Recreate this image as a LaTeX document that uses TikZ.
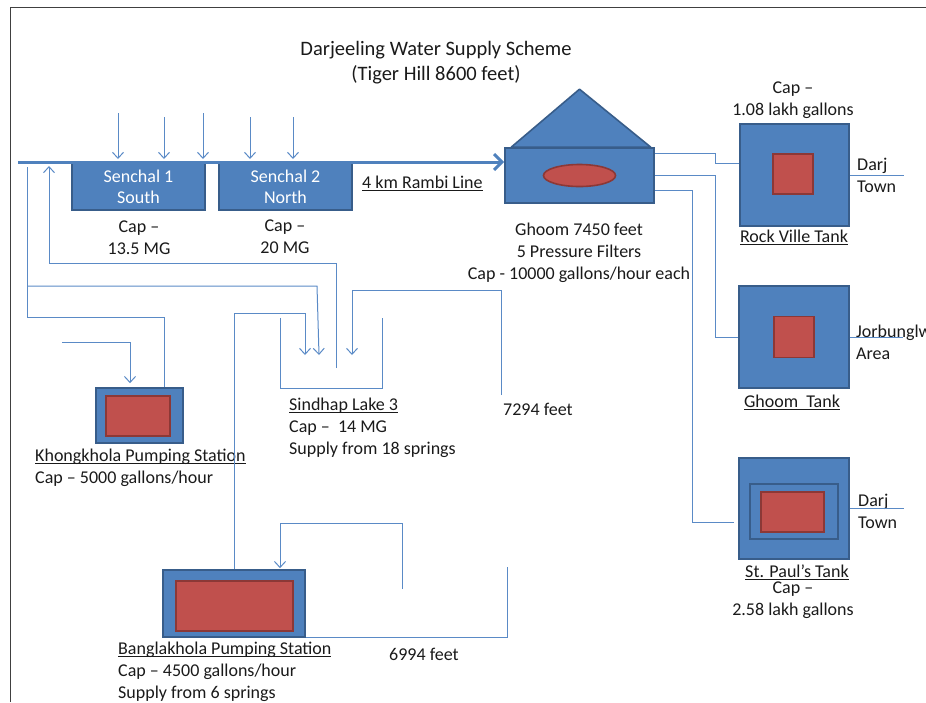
\documentclass[tikz,border=0pt]{standalone}
\usepackage{fontspec}
\setmainfont{Carlito}
\usetikzlibrary{arrows.meta,shapes.geometric}
\definecolor{tankfill}{HTML}{4F81BD}
\definecolor{tankborder}{HTML}{385D8A}
\definecolor{corefill}{HTML}{C0504D}
\definecolor{coreborder}{HTML}{8C3836}
\definecolor{pipeline}{HTML}{5A8AC6}
\definecolor{darkline}{HTML}{1A1A1A}
\definecolor{framegray}{HTML}{404040}
\newcommand{\ulabel}[1]{\setbox0\hbox{#1}\rlap{\rule[-2.4pt]{\wd0}{0.8pt}}\box0}
\tikzset{
  paint/.style={draw=tankborder, fill=tankfill, line width=1.6pt},
  box/.style={rectangle, paint, inner sep=0pt},
  tank/.style={box, minimum width=109pt, minimum height=102pt},
  core/.style={rectangle, draw=coreborder, fill=corefill, line width=1.6pt, inner sep=0pt},
  reservoir/.style={box, text=white, align=center, minimum width=133pt, minimum height=47pt,
                    font=\fontsize{18}{21}\selectfont},
  lbl/.style={font=\fontsize{18}{22}\selectfont, text=darkline, inner sep=0pt, align=center},
  lbll/.style={lbl, align=left, anchor=west},
  pipe/.style={draw=pipeline, line width=1pt},
  feed/.style={pipe, -{Straight Barb[length=6pt,width=11pt]}},
  mainpipe/.style={draw=tankfill, line width=3pt, -{Straight Barb[length=8pt,width=16pt]}},
  frameline/.style={draw=framegray, line width=1pt}
}
\def\pipeY{162}
\def\lakeTip{355}

\begin{document}
\begin{tikzpicture}[x=1pt, y=-1pt]
\useasboundingbox (0,0) rectangle (926,702);

%% Slide frame
\draw[frameline] (10,702) -- (10,7) -- (926,7);

%% Title
\node[lbl, font=\fontsize{20.5}{25}\selectfont] (title) at (436,63)
  {Darjeeling Water Supply Scheme\\(Tiger Hill 8600 feet)};

%% Senchal lakes on the Rambi line
\node[reservoir] (senchalS) at (138.5,186.5) {Senchal 1\\South};
\node[reservoir] (senchalN) at (285.5,186.5) {Senchal 2\\North};
\node[lbl] (capS) at (139,238) {Cap –\\13.5 MG};
\node[lbl] (capN) at (285,237) {Cap –\\20 MG};
\node[lbll] (rambi) at (362,183) {\ulabel{4 km Rambi Line}};

%% Ghoom pressure filters
\node[box, minimum width=149pt, minimum height=55pt] (filter) at (579.5,175.5) {};
\path (filter.north) ++(0,-58) coordinate (roofapex);
\filldraw[paint, line join=round] ([xshift=7pt]filter.north west) -- (roofapex)
  -- ([xshift=-4pt]filter.north east) -- cycle;
\node[core, ellipse, minimum width=72pt, minimum height=22pt] (filtercore) at (filter.center) {};
\node[lbl] (ghoominfo) at (579,252.5)
  {Ghoom 7450 feet\\5 Pressure Filters\\Cap - 10000 gallons/hour each};

%% Service tanks
\node[tank] (rockville) at (794.5,175) {};
\node[core, minimum width=40pt, minimum height=40pt] (rockcore) at (793,174) {};
\node[lbl] (rockcap) at (793,100.5) {Cap –\\1.08 lakh gallons};
\node[lbl] (rockname) at (794,237) {\ulabel{Rock Ville Tank}};
\node[lbll] (rockout) at (857,175.5) {Darj\\Town};

\node[tank, minimum width=110pt] (ghoomtank) at (794,337) {};
\node[core, minimum width=40pt, minimum height=41pt] (ghoomcore) at (794,337) {};
\node[lbl] (ghoomname) at (792,402) {\ulabel{Ghoom\ \ Tank}};
\node[lbll] (ghoomout) at (856,342.5) {Jorbunglw\\Area};

\node[tank, minimum width=110pt, minimum height=101pt] (stpaul) at (794,508.5) {};
\node[box, minimum width=88pt, minimum height=55pt] (stpaulmid) at (794,511.5) {};
\node[core, minimum width=63pt, minimum height=40pt] (stpaulcore) at (792.5,512) {};
\node[lbl] (stpaulname) at (797,572) {\ulabel{St. Paul’s Tank}};
\node[lbl] (stpaulcap) at (793,600.5) {Cap –\\2.58 lakh gallons};
\node[lbll] (stpaulout) at (858,511) {Darj\\Town};

%% Pumping stations and Sindhap lake
\node[box, minimum width=87pt, minimum height=55pt] (khong) at (139.5,415.5) {};
\node[core, minimum width=64pt, minimum height=40pt] (khongcore) at (138,416) {};
\node[lbll] (khongname) at (35,468)
  {\ulabel{Khongkhola Pumping Station}\\Cap – 5000 gallons/hour};

\node[box, minimum width=142pt, minimum height=67pt] (bangla) at (234,603.5) {};
\node[core, minimum width=117pt, minimum height=50pt] (banglacore) at (234.5,606) {};
\node[lbll] (banglaname) at (118,672)
  {\ulabel{Banglakhola Pumping Station}\\Cap – 4500 gallons/hour\\Supply from 6 springs};
\node[lbll] (feet6994) at (389,654) {6994 feet};

\node[minimum width=101pt, minimum height=70pt, inner sep=0pt] (lake) at (331.5,353) {};
\draw[pipe] (lake.north west) -- (lake.south west) -- (lake.south east) -- (lake.north east);
\node[lbll] (lakename) at (289,428)
  {\ulabel{Sindhap Lake 3}\\Cap –\ \ 14 MG\\Supply from 18 springs};
\node[lbll] (feet7294) at (503,409) {7294 feet};

%% Free ends
\coordinate (pipeW)    at (18,\pipeY);
\coordinate (pipeIn)   at (49,166);
\coordinate (riserK)   at (27,167);
\coordinate (jointK)   at (27,286);
\coordinate (tipK)     at (319,\lakeTip);
\coordinate (tipB)     at (305,\lakeTip);
\coordinate (tipR)     at (352,\lakeTip);
\coordinate (lakeout)  at (336,368);
\coordinate (srcK)     at (62,342);
\coordinate (src7294)  at (501,395);
\coordinate (srcB)     at (402,589);
\coordinate (src6994)  at (507,567);

%% Flow
% springs feeding the Rambi line
\foreach \x/\y [count=\i] in {118/113, 164/117, 203/113, 250/117, 293/117} {
  \coordinate (spring\i) at (\x,\y);
  \draw[feed] (spring\i) -- (spring\i |- 0,159);
}
% Rambi line to Ghoom
\draw[mainpipe] (pipeW) -- (pipeW -| filter.west);
% Sindhap lake back up to the line
\draw[feed] (lakeout) -- ++(0,-105) -| (pipeIn);
% Khongkhola pumping
\draw[pipe] ([xshift=24.5pt]khong.north) -- ++(0,-70) -| (riserK);
\draw[feed] (jointK) -- ++(290,0) -- (tipK);
\draw[feed] (srcK) -| ([xshift=-9.5pt,yshift=4pt]khong.north);
% Banglakhola pumping
\draw[feed] (bangla.north) -- ++(0,-256) -| (tipB);
\draw[feed] (srcB) -- ++(0,-66) -| ([xshift=46pt,yshift=1pt]bangla.north);
\draw[pipe] (bangla.south east) -| (src6994);
% 7294 feet supply
\draw[feed] (src7294) -- ++(0,-105) -| (tipR);
% Ghoom to the tanks
\draw[pipe] ([yshift=22.5pt]filter.east) -- ++(61,0) |- ([yshift=12pt]rockville.west);
\draw[pipe] (filter.east) -- ++(61,0) |- (ghoomtank.west);
\draw[pipe] ([yshift=-14.5pt]filter.east) -- ++(38,0) |- ([xshift=-4pt,yshift=-14pt]stpaul.west);
% tank outlets
\draw[pipe] (rockville.east) -- ++(54,0) coordinate (outRV);
\draw[pipe] (ghoomtank.east) -- ++(53,0) coordinate (outGT);
\draw[pipe] (stpaul.east) -- ++(54,0) coordinate (outSP);

\end{tikzpicture}
\end{document}
